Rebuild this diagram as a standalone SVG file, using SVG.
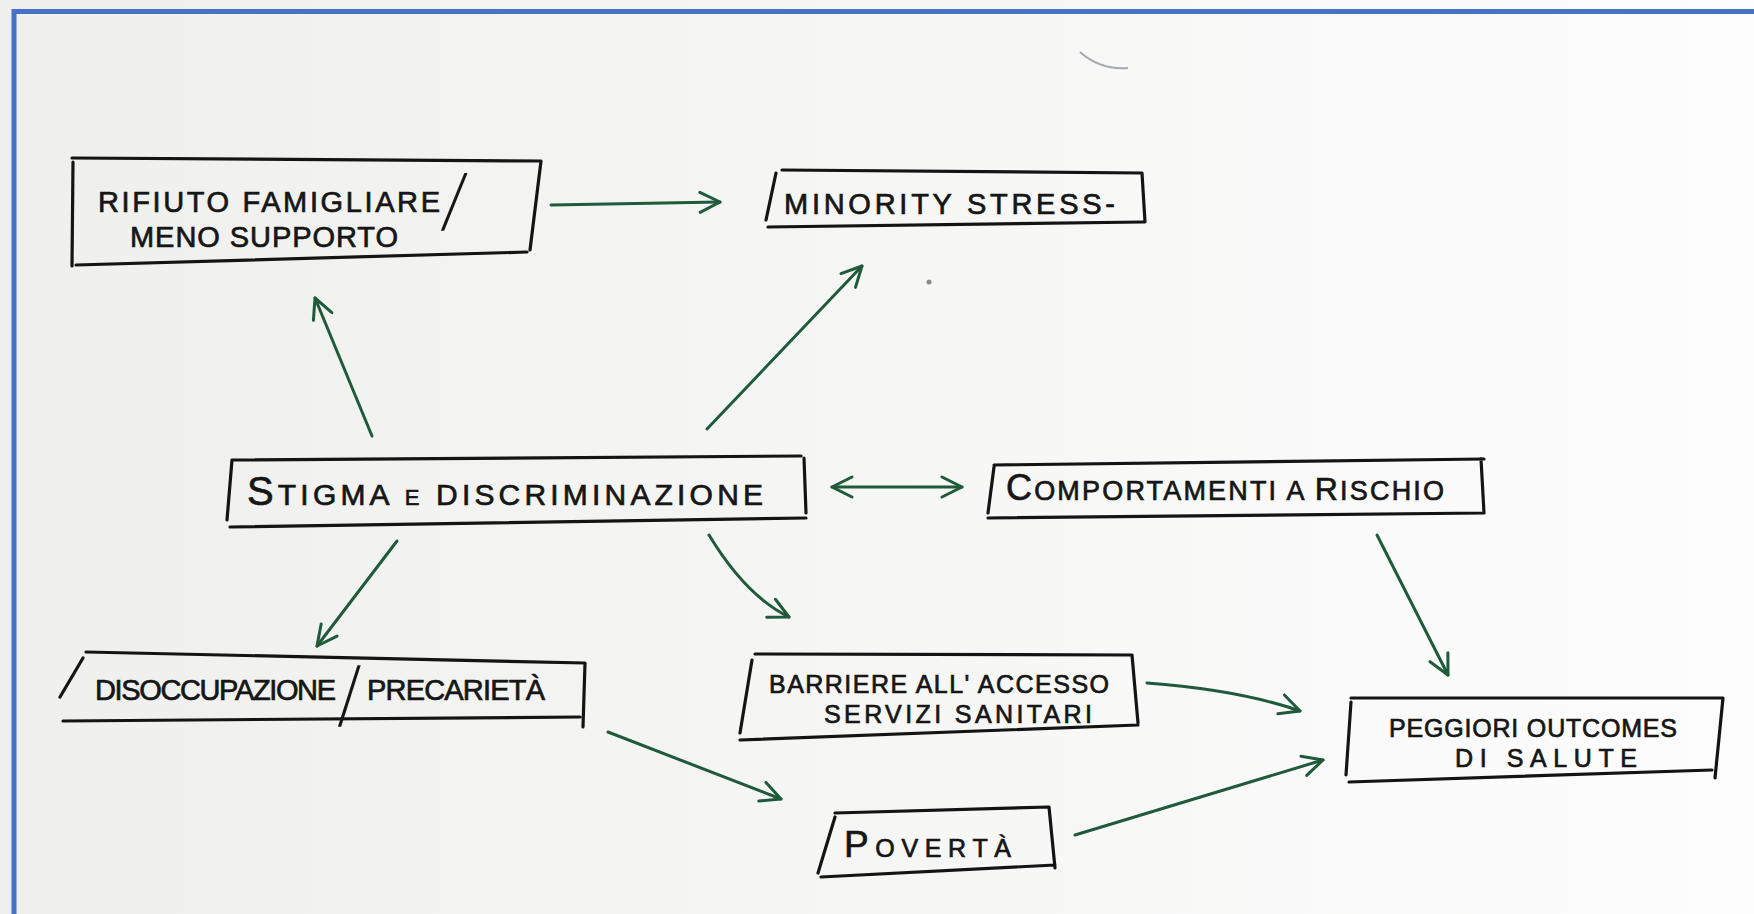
<svg xmlns="http://www.w3.org/2000/svg" width="1754" height="914" viewBox="0 0 1754 914">
<defs>
<linearGradient id="paper" x1="0" y1="0" x2="1" y2="0">
<stop offset="0" stop-color="#efefed"/>
<stop offset="0.5" stop-color="#f6f6f5"/>
<stop offset="1" stop-color="#fdfdfd"/>
</linearGradient>
<marker id="ah" viewBox="0 0 26 26" markerWidth="26" markerHeight="26" refX="23" refY="13" orient="auto-start-reverse" markerUnits="userSpaceOnUse">
<path d="M3,3 L23,13 L3,23" fill="none" stroke="#1f5a3b" stroke-width="3" stroke-linecap="round" stroke-linejoin="round"/>
</marker>
<style>
.box{fill:none;stroke:#141414;stroke-width:3.2;stroke-linecap:round;stroke-linejoin:round}
.t{font-family:"Liberation Sans","DejaVu Sans",sans-serif;fill:#161616;stroke:#161616;stroke-width:0.7}
.sl{font-family:"Liberation Sans","DejaVu Sans",sans-serif;fill:#161616;font-size:42px}
.c{fill:none;stroke:#1f5a3b;stroke-width:3;stroke-linecap:round}
</style>
</defs>
<rect x="0" y="0" width="1754" height="914" fill="url(#paper)"/>
<path d="M14,914 L14,11.5 L1754,11.5" fill="none" stroke="#4673c6" stroke-width="5"/>
<path d="M1080,52 Q1100,70 1128,68" fill="none" stroke="#a4aab2" stroke-width="2"/>
<circle cx="929" cy="282" r="2.5" fill="#8a8a8a"/>

<g id="connectors">
<path class="c" d="M551,205 L720,202" marker-end="url(#ah)"/>
<path class="c" d="M372,436 L315,298" marker-end="url(#ah)"/>
<path class="c" d="M707,429 L862,266" marker-end="url(#ah)"/>
<path class="c" d="M832,487 L962,487" marker-start="url(#ah)" marker-end="url(#ah)"/>
<path class="c" d="M397,541 L317,646" marker-end="url(#ah)"/>
<path class="c" d="M709,535 Q746,596 789,617" marker-end="url(#ah)"/>
<path class="c" d="M1377,535 L1448,675" marker-end="url(#ah)"/>
<path class="c" d="M1147,683 Q1240,690 1300,711" marker-end="url(#ah)"/>
<path class="c" d="M1075,835 L1323,760" marker-end="url(#ah)"/>
<path class="c" d="M608,732 L781,799" marker-end="url(#ah)"/>
</g>

<g id="n1">
<path class="box" d="M72,158 L541,161 L530,250 M527,252 L76,265 M73,162 L72,266"/>
<text class="t" x="98" y="212" font-size="29" textLength="342">RIFIUTO FAMIGLIARE</text>
<text class="sl" transform="translate(441,230) skewX(-14.7) scale(1,1.87)">/</text>
<text class="t" x="130" y="247" font-size="29" textLength="268">MENO SUPPORTO</text>
</g>

<g id="n2">
<path class="box" d="M782,170 L1142,173 L1145,222 M1143,222 L768,227 M776,173 L766,220"/>
<text class="t" x="784" y="214" font-size="29" textLength="331">MINORITY STRESS-</text>
</g>

<g id="n3">
<path class="box" d="M232,460 L801,456 M804,458 L806,513 M806,518 L230,527 M232,460 L227,520"/>
<text class="t" x="247" y="505" font-size="30" textLength="516"><tspan font-size="40">S</tspan>TIGMA <tspan font-size="22">E</tspan> DISCRIMINAZIONE</text>
</g>

<g id="n4">
<path class="box" d="M994,465 L1484,459 M1481,459 L1484,513 M1484,513 L988,518 M994,467 L988,513"/>
<text class="t" x="1006" y="500" font-size="27" textLength="438"><tspan font-size="36">C</tspan>OMPORTAMENTI A <tspan font-size="32">R</tspan>ISCHIO</text>
</g>

<g id="n5">
<path class="box" d="M755,654 L1132,655 L1138,723 M1138,725 L740,740 M752,660 L740,733"/>
<text class="t" x="769" y="693" font-size="25" textLength="340">BARRIERE ALL' ACCESSO</text>
<text class="t" x="824" y="723" font-size="25" textLength="268">SERVIZI SANITARI</text>
</g>

<g id="n6">
<path class="box" d="M1351,698 L1723,698 L1715,778 M1712,770 L1349,782 M1351,702 L1346,775"/>
<text class="t" x="1389" y="737" font-size="25" textLength="288">PEGGIORI OUTCOMES</text>
<text class="t" x="1455" y="767" font-size="25" textLength="182">DI SALUTE</text>
</g>

<g id="n7">
<path class="box" d="M86,652 L585,663 L583,727 M580,717 L63,721 M83,658 L60,697"/>
<text class="t" x="95" y="700" font-size="29" textLength="241">DISOCCUPAZIONE</text>
<text class="sl" transform="translate(338,726) skewX(-10.3) scale(1,2)">/</text>
<text class="t" x="367" y="700" font-size="29" textLength="178">PRECARIETÀ</text>
</g>

<g id="n8">
<path class="box" d="M835,813 L1049,807 L1055,868 M1055,865 L821,877 M835,817 L818,873"/>
<text class="t" x="844" y="857" font-size="25" textLength="167"><tspan font-size="37">P</tspan>OVERTÀ</text>
</g>
</svg>
